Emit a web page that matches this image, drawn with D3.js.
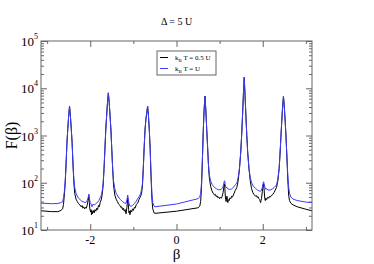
<!DOCTYPE html>
<html>
<head>
<meta charset="utf-8">
<script src="https://cdn.jsdelivr.net/npm/d3@7"></script>
<style>
  body { margin: 0; background: #fff; }
  svg { display: block; font-family: "Liberation Serif", "DejaVu Serif", serif; }
</style>
</head>
<body>
<div id="chart"></div>
<script>
// values
var title = "\u0394 = 5 U";
var xTicksMajor = [-2, 0, 2];
var xTicksMinor = [-3, -1, 1, 3];
var yTicksMajor = [1e1, 1e2, 1e3, 1e4, 1e5];
var yExponents = [1, 2, 3, 4, 5];
var seriesNames = ["0.5 U", "U"];

// [beta, F] for k_B T = 0.5 U
var blackPts = [
  [-3.14,25.5],[-2.9,24.5],[-2.75,24.5],[-2.68,26],[-2.64,28],[-2.62,35],[-2.6,55],[-2.58,100],
  [-2.56,250],[-2.54,700],[-2.52,1400],[-2.5,2600],[-2.48,4200],[-2.46,2600],[-2.44,1400],[-2.42,700],[-2.4,250],
  [-2.38,100],[-2.36,60],[-2.33,45],[-2.3,40],[-2.27,36],[-2.24,34],[-2.21,31],[-2.19,33],[-2.17,29],[-2.15,31],
  [-2.13,28],[-2.11,30],[-2.09,29],[-2.07,34],[-2.05,42],[-2.03,52],[-2.02,38],[-2.01,28],[-1.99,24],[-1.98,27],
  [-1.97,21],[-1.96,25],[-1.95,22],[-1.93,26],[-1.91,23],[-1.89,27],[-1.87,25],[-1.85,29],[-1.83,27],[-1.81,33],
  [-1.79,31],[-1.77,38],[-1.74,45],[-1.72,60],[-1.7,90],
  [-1.68,200],[-1.66,500],[-1.64,1300],[-1.62,2600],[-1.6,5000],[-1.58,8000],[-1.56,5000],[-1.54,2600],[-1.52,1300],[-1.5,500],[-1.48,200],
  [-1.46,90],[-1.43,55],[-1.4,45],[-1.37,40],[-1.34,35],[-1.31,33],[-1.29,30],[-1.27,31],[-1.25,27],[-1.23,29],
  [-1.21,25],[-1.19,27],[-1.17,22],[-1.15,30],[-1.13,48],[-1.12,38],[-1.11,27],[-1.1,23],[-1.09,25],[-1.08,21],
  [-1.06,26],[-1.04,24],[-1.02,28],[-1.0,26],[-0.98,30],[-0.96,29],[-0.93,35],[-0.9,37],[-0.87,44],[-0.85,48],
  [-0.83,52],[-0.81,60],[-0.79,85],
  [-0.77,200],[-0.75,550],[-0.73,1300],[-0.71,2200],[-0.69,3000],[-0.67,4200],[-0.65,2600],[-0.63,1300],[-0.61,500],
  [-0.59,130],[-0.57,45],[-0.55,28],[-0.52,23],[-0.5,22.5],[0,25],[0.5,29.5],[0.54,32],[0.56,40],[0.58,80],
  [0.6,300],[0.62,1200],[0.64,3500],[0.66,6800],[0.68,3500],[0.7,1400],[0.72,600],[0.74,250],
  [0.76,130],[0.79,85],[0.82,68],[0.85,60],[0.88,55],[0.9,57],[0.92,51],[0.94,53],[0.96,48],[0.98,50],[1.0,46],
  [1.02,49],[1.04,47],[1.06,52],[1.08,62],[1.1,85],[1.11,95],[1.12,80],[1.13,55],[1.14,44],[1.15,40],[1.16,48],
  [1.17,52],[1.18,45],[1.19,38],[1.2,44],[1.22,42],[1.24,48],[1.26,46],[1.28,52],[1.3,50],[1.33,58],[1.36,68],
  [1.4,80],[1.43,110],
  [1.46,200],[1.49,450],[1.51,1000],[1.53,2500],[1.55,7000],[1.57,17000],[1.59,7000],[1.61,2500],[1.63,1000],[1.65,450],[1.68,200],
  [1.71,110],[1.74,75],[1.77,62],[1.8,56],[1.83,52],[1.85,54],[1.87,49],[1.89,51],[1.91,46],[1.93,44],[1.95,38],
  [1.96,42],[1.97,46],[1.99,65],[2.01,90],[2.02,95],[2.03,75],[2.04,55],[2.05,45],[2.06,42],[2.07,47],[2.09,44],
  [2.11,49],[2.13,47],[2.15,51],[2.17,49],[2.2,54],[2.23,56],[2.26,62],[2.29,70],[2.32,80],[2.35,110],
  [2.38,200],[2.4,400],[2.42,900],[2.44,2000],[2.46,4000],[2.48,6800],[2.5,4000],[2.52,2000],[2.54,900],[2.56,350],
  [2.58,120],[2.6,55],[2.62,42],[2.65,37],[2.7,34],[2.8,31],[3.0,27.5],[3.14,25.5]
];

// [beta, F] for k_B T = U
var bluePts = [
  [-3.14,37],[-2.9,36],[-2.75,36.5],[-2.68,38],[-2.64,40],[-2.62,48],[-2.6,65],[-2.58,110],
  [-2.56,250],[-2.54,700],[-2.52,1400],[-2.5,2600],[-2.48,4200],[-2.46,2600],[-2.44,1400],[-2.42,700],[-2.4,250],
  [-2.38,120],[-2.36,80],[-2.33,60],[-2.28,48],[-2.2,41],[-2.12,38],[-2.08,40],[-2.05,48],[-2.03,58],[-2.015,45],
  [-2.0,38],[-1.98,35],[-1.96,31],[-1.94,35],[-1.9,34],[-1.85,37],[-1.8,42],[-1.77,48],[-1.74,55],[-1.72,70],[-1.7,100],
  [-1.68,200],[-1.66,500],[-1.64,1300],[-1.62,2600],[-1.6,5000],[-1.58,8000],[-1.56,5000],[-1.54,2600],[-1.52,1300],[-1.5,500],[-1.48,200],
  [-1.46,110],[-1.43,75],[-1.4,60],[-1.35,50],[-1.3,44],[-1.25,40],[-1.2,37],[-1.17,37],[-1.15,44],[-1.13,55],
  [-1.12,45],[-1.1,36],[-1.08,32],[-1.05,32],[-1.02,33],[-0.98,36],[-0.94,40],[-0.9,46],[-0.86,52],[-0.83,60],
  [-0.81,72],[-0.79,95],
  [-0.77,200],[-0.75,550],[-0.73,1300],[-0.71,2200],[-0.69,3000],[-0.67,4200],[-0.65,2600],[-0.63,1300],[-0.61,500],
  [-0.59,150],[-0.57,60],[-0.55,38],[-0.52,32],[-0.5,31],[0,35.5],[0.5,46],[0.54,50],[0.56,60],[0.58,100],
  [0.6,300],[0.62,1200],[0.64,3500],[0.66,6800],[0.68,3500],[0.7,1400],[0.72,600],[0.74,250],
  [0.76,150],[0.79,110],[0.83,90],[0.88,80],[0.93,74],[0.98,71],[1.03,72],[1.07,78],[1.09,90],[1.11,110],
  [1.12,108],[1.13,90],[1.15,78],[1.17,80],[1.19,74],[1.23,72],[1.28,74],[1.33,82],[1.37,92],[1.4,100],[1.43,130],
  [1.46,200],[1.49,450],[1.51,1000],[1.53,2500],[1.55,7000],[1.57,17000],[1.59,7000],[1.61,2500],[1.63,1000],[1.65,450],[1.68,200],
  [1.71,130],[1.74,100],[1.78,85],[1.83,76],[1.88,70],[1.92,67],[1.95,66],[1.97,70],[1.99,80],[2.01,100],[2.02,105],
  [2.03,95],[2.05,80],[2.07,72],[2.09,75],[2.12,70],[2.17,70],[2.22,74],[2.27,80],[2.32,90],[2.35,120],
  [2.38,200],[2.4,400],[2.42,900],[2.44,2000],[2.46,4000],[2.48,6800],[2.5,4000],[2.52,2000],[2.54,900],[2.56,350],
  [2.58,150],[2.6,80],[2.62,60],[2.65,50],[2.7,45],[2.8,42],[3.0,39],[3.14,38]
];

var series = [
  {name: seriesNames[0], pts: blackPts, color: "#000000"},
  {name: seriesNames[1], pts: bluePts, color: "#3c3cf8"}
];

var W = 374, H = 264;
var margin = {top: 41, right: 62, bottom: 34, left: 41};
var width = W - margin.left - margin.right;
var height = H - margin.top - margin.bottom;

var svg = d3.select("#chart").append("svg")
    .attr("width", W)
    .attr("height", H);

var g = svg.append("g")
    .attr("transform", "translate(" + margin.left + "," + margin.top + ")");

var x = d3.scaleLinear().domain([-Math.PI, Math.PI]).range([0, width]);
var y = d3.scaleLog().domain([10, 1e5]).range([height, 0]);

// minor log ticks 2..9 in each decade
var yMinor = [];
for (var d = 1; d < 5; d++) {
    for (var k = 2; k <= 9; k++) yMinor.push(k * Math.pow(10, d));
}

function tickStyle(sel) {
    sel.select(".domain").remove();
    sel.selectAll("line").attr("stroke", "#666").attr("stroke-width", 1);
    sel.selectAll("text").remove();
}

// inward ticks on all four sides
g.append("g").attr("transform", "translate(0," + height + ")")
    .call(d3.axisBottom(x).tickValues(xTicksMajor).tickSize(-6)).call(tickStyle);
g.append("g").attr("transform", "translate(0," + height + ")")
    .call(d3.axisBottom(x).tickValues(xTicksMinor).tickSize(-3)).call(tickStyle);
g.append("g")
    .call(d3.axisTop(x).tickValues(xTicksMajor).tickSize(-6)).call(tickStyle);
g.append("g")
    .call(d3.axisTop(x).tickValues(xTicksMinor).tickSize(-3)).call(tickStyle);
g.append("g")
    .call(d3.axisLeft(y).tickValues(yTicksMajor).tickSize(-6)).call(tickStyle);
g.append("g")
    .call(d3.axisLeft(y).tickValues(yMinor).tickSize(-3)).call(tickStyle);
g.append("g").attr("transform", "translate(" + width + ",0)")
    .call(d3.axisRight(y).tickValues(yTicksMajor).tickSize(-6)).call(tickStyle);
g.append("g").attr("transform", "translate(" + width + ",0)")
    .call(d3.axisRight(y).tickValues(yMinor).tickSize(-3)).call(tickStyle);

// curves
var line = d3.line()
    .x(function(d) { return x(d[0]); })
    .y(function(d) { return y(d[1]); });

series.forEach(function(s) {
    g.append("path")
        .datum(s.pts)
        .attr("fill", "none")
        .attr("stroke", s.color)
        .attr("stroke-width", 1)
        .attr("stroke-linejoin", "round")
        .attr("d", line);
});

// frame
g.append("rect")
    .attr("width", width).attr("height", height)
    .attr("fill", "none").attr("stroke", "#666").attr("stroke-width", 1);

// x tick labels
g.selectAll(".xlab").data(xTicksMajor).enter().append("text")
    .attr("x", function(d) { return x(d); })
    .attr("y", height + 14)
    .attr("text-anchor", "middle")
    .attr("font-size", 12)
    .text(function(d) { return d < 0 ? "-" + Math.abs(d) : d; });

// y tick labels 10^n
var ylab = g.selectAll(".ylab").data(yTicksMajor).enter().append("text")
    .attr("x", -3)
    .attr("y", function(d) { return y(d) + 5; })
    .attr("text-anchor", "end")
    .attr("font-size", 13);
ylab.append("tspan").text("10");
ylab.append("tspan")
    .attr("font-size", 8)
    .attr("dy", -7)
    .text(function(d, i) { return yExponents[i]; });

// axis titles
svg.append("text")
    .attr("x", margin.left + x(0))
    .attr("y", 259)
    .attr("text-anchor", "middle")
    .attr("font-size", 15)
    .text("\u03b2");

svg.append("text")
    .attr("transform", "translate(17," + (margin.top + height / 2) + ") rotate(-90)")
    .attr("text-anchor", "middle")
    .attr("font-size", 16)
    .text("F(\u03b2)");

svg.append("text")
    .attr("x", margin.left + x(0))
    .attr("y", 25)
    .attr("text-anchor", "middle")
    .attr("font-size", 10)
    .text(title);

// legend
var lg = svg.append("g").attr("transform", "translate(157,51)");
lg.append("rect")
    .attr("width", 59).attr("height", 24)
    .attr("fill", "#fff").attr("stroke", "#666").attr("stroke-width", 1);
series.forEach(function(s, i) {
    var yy = 6.5 + i * 11;
    lg.append("line")
        .attr("x1", 3).attr("x2", 11)
        .attr("y1", yy).attr("y2", yy)
        .attr("stroke", s.color).attr("stroke-width", 1);
    var t = lg.append("text")
        .attr("x", 18).attr("y", yy + 2.5)
        .attr("font-size", 7);
    t.append("tspan").text("k");
    t.append("tspan").attr("font-size", 5).attr("dy", 2).text("B");
    t.append("tspan").attr("dy", -2).text(" T = " + s.name);
});
</script>
</body>
</html>
